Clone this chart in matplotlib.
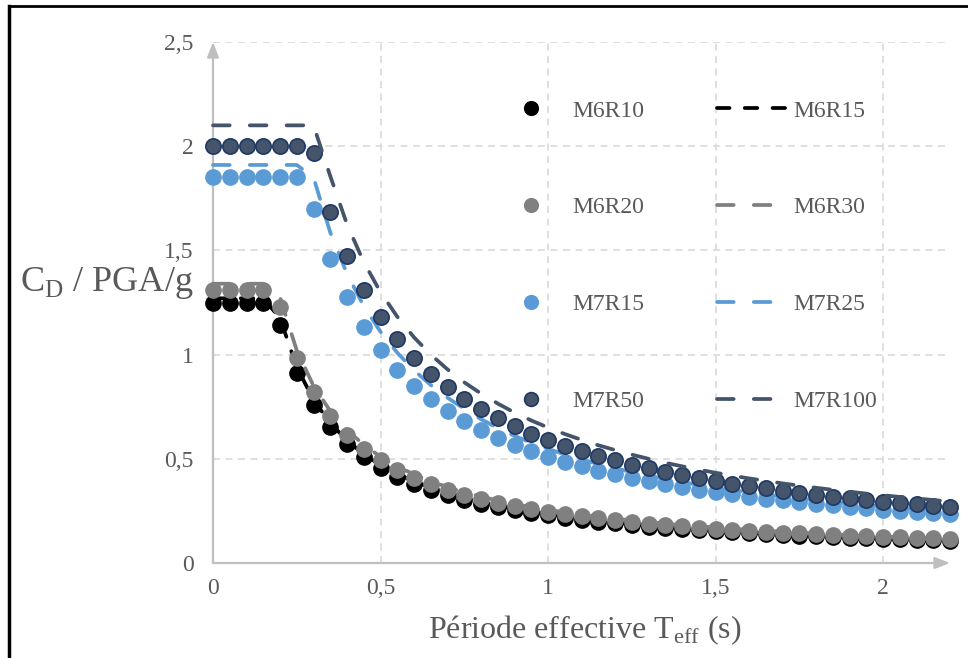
import matplotlib
matplotlib.use("Agg")
import matplotlib.pyplot as plt
from matplotlib.lines import Line2D
from matplotlib.ticker import FuncFormatter

# ------------------------------- data -------------------------------
T = [0.00, 0.05, 0.10, 0.15, 0.20, 0.25, 0.30, 0.35, 0.40, 0.45,
     0.50, 0.55, 0.60, 0.65, 0.70, 0.75, 0.80, 0.85, 0.90, 0.95,
     1.00, 1.05, 1.10, 1.15, 1.20, 1.25, 1.30, 1.35, 1.40, 1.45,
     1.50, 1.55, 1.60, 1.65, 1.70, 1.75, 1.80, 1.85, 1.90, 1.95,
     2.00, 2.05, 2.10, 2.15, 2.20]

# scatter series
M6R10 = [1.25, 1.25, 1.25, 1.25, 1.14, 0.912, 0.760, 0.651, 0.570, 0.507,
         0.456, 0.415, 0.380, 0.351, 0.326, 0.304, 0.285, 0.268, 0.253, 0.240,
         0.228, 0.217, 0.207, 0.198, 0.190, 0.182, 0.175, 0.169, 0.163, 0.157,
         0.152, 0.147, 0.143, 0.139, 0.135, 0.131, 0.128, 0.124, 0.121, 0.118,
         0.116, 0.113, 0.111, 0.109, 0.107]
M6R20 = [1.31, 1.31, 1.31, 1.31, 1.23, 0.984, 0.820, 0.703, 0.615, 0.547,
         0.492, 0.447, 0.410, 0.378, 0.351, 0.328, 0.308, 0.289, 0.273, 0.259,
         0.246, 0.234, 0.224, 0.214, 0.205, 0.197, 0.189, 0.182, 0.176, 0.170,
         0.164, 0.159, 0.155, 0.150, 0.146, 0.142, 0.138, 0.135, 0.131, 0.128,
         0.125, 0.123, 0.120, 0.118, 0.116]
M7R15 = [1.85, 1.85, 1.85, 1.85, 1.85, 1.85, 1.70, 1.457, 1.275, 1.133,
         1.020, 0.927, 0.850, 0.785, 0.729, 0.680, 0.638, 0.600, 0.567, 0.537,
         0.510, 0.486, 0.464, 0.443, 0.425, 0.408, 0.392, 0.378, 0.364, 0.352,
         0.340, 0.329, 0.319, 0.309, 0.300, 0.291, 0.283, 0.276, 0.268, 0.262,
         0.255, 0.249, 0.243, 0.238, 0.234]
M7R50 = [2.00, 2.00, 2.00, 2.00, 2.00, 2.00, 1.967, 1.686, 1.475, 1.311,
         1.180, 1.073, 0.983, 0.908, 0.843, 0.787, 0.738, 0.694, 0.656, 0.621,
         0.590, 0.562, 0.536, 0.513, 0.492, 0.472, 0.454, 0.437, 0.421, 0.407,
         0.393, 0.381, 0.369, 0.358, 0.347, 0.337, 0.328, 0.319, 0.311, 0.303,
         0.295, 0.288, 0.281, 0.275, 0.270]

# dashed line series
M6R15 = [1.27, 1.27, 1.27, 1.27, 1.175, 0.940, 0.783, 0.671, 0.588, 0.522,
         0.470, 0.427, 0.392, 0.362, 0.336, 0.313, 0.294, 0.276, 0.261, 0.247,
         0.235, 0.224, 0.214, 0.204, 0.196, 0.188, 0.181, 0.174, 0.168, 0.162,
         0.157, 0.152, 0.147, 0.142, 0.138, 0.134, 0.131, 0.127, 0.124, 0.121,
         0.118, 0.115, 0.112, 0.110, 0.108]
M6R30 = [1.34, 1.34, 1.34, 1.34, 1.275, 1.020, 0.850, 0.729, 0.638, 0.567,
         0.510, 0.464, 0.425, 0.392, 0.364, 0.340, 0.319, 0.300, 0.283, 0.268,
         0.255, 0.243, 0.232, 0.222, 0.213, 0.204, 0.196, 0.189, 0.182, 0.176,
         0.170, 0.165, 0.159, 0.155, 0.150, 0.146, 0.142, 0.138, 0.134, 0.131,
         0.128, 0.124, 0.121, 0.119, 0.116]
M7R25 = [1.91, 1.91, 1.91, 1.91, 1.91, 1.91, 1.85, 1.586, 1.388, 1.233,
         1.110, 1.009, 0.925, 0.854, 0.793, 0.740, 0.690, 0.648, 0.610, 0.577,
         0.548, 0.521, 0.497, 0.475, 0.455, 0.436, 0.419, 0.403, 0.389, 0.375,
         0.362, 0.350, 0.339, 0.329, 0.319, 0.310, 0.301, 0.293, 0.285, 0.278,
         0.271, 0.264, 0.258, 0.252, 0.246]
M7R100 = [2.10, 2.10, 2.10, 2.10, 2.10, 2.10, 2.10, 1.857, 1.625, 1.444,
          1.300, 1.182, 1.083, 1.000, 0.929, 0.867, 0.813, 0.765, 0.722, 0.684,
          0.650, 0.619, 0.591, 0.565, 0.542, 0.520, 0.500, 0.481, 0.464, 0.448,
          0.433, 0.419, 0.406, 0.394, 0.382, 0.371, 0.361, 0.351, 0.342, 0.333,
          0.325, 0.317, 0.310, 0.302, 0.295]

X_TICKS = [0, 0.5, 1, 1.5, 2]
Y_TICKS = [0, 0.5, 1, 1.5, 2, 2.5]

# ------------------------------- style -------------------------------
plt.rcParams["font.family"] = ["Liberation Serif", "DejaVu Serif"]
plt.rcParams["mathtext.fontset"] = "custom"
plt.rcParams["mathtext.rm"] = "Liberation Serif"
plt.rcParams["lines.scale_dashes"] = False

TXT = "#595959"
AX_GREY = "#bfbfbf"
GRID = "#d9d9d9"
BLACK = "#000000"
GREY = "#808080"
LBLUE = "#5b9bd5"
DBLUE = "#44546a"
DEDGE = "#1f3864"

SHORT_DASH = (0, (9.0, 11.0))
LONG_DASH = (0, (12.0, 14.5))
LW = 2.7
MS = 11


def comma(v, _pos):
    s = f"{v:g}"
    return s.replace(".", ",")


fig = plt.figure(figsize=(9.68, 6.58), dpi=100)
ax = fig.add_axes([213 / 968, 1 - 563 / 658, (950 - 213) / 968, (563 - 42) / 658])

ax.set_xlim(0, 2.2)
ax.set_ylim(0, 2.5)

# grid
for y in Y_TICKS[1:]:
    ax.axhline(y, color=GRID, lw=1.2, ls=(0, (5, 4)), zorder=0)
for x in X_TICKS[1:]:
    ax.axvline(x, color=GRID, lw=1.2, ls=(0, (5, 4)), zorder=0)

for s in ax.spines.values():
    s.set_visible(False)

# axes with arrows
ax.annotate("", xy=(0, 1.0), xytext=(0, 0), xycoords="axes fraction",
            arrowprops=dict(arrowstyle="-|>,head_length=0.9,head_width=0.35",
                            color=AX_GREY, lw=1.6, shrinkA=0, shrinkB=0),
            annotation_clip=False, zorder=1)
ax.annotate("", xy=(1.0, 0), xytext=(0, 0), xycoords="axes fraction",
            arrowprops=dict(arrowstyle="-|>,head_length=0.9,head_width=0.35",
                            color=AX_GREY, lw=1.6, shrinkA=0, shrinkB=0),
            annotation_clip=False, zorder=1)

# series
h1, = ax.plot(T, M6R10, ls="none", marker="o", ms=MS, color=BLACK,
              mec=BLACK, label="M6R10", clip_on=False, zorder=3)
h2, = ax.plot(T, M6R15, ls=SHORT_DASH, lw=LW, color=BLACK,
              dash_capstyle="round", label="M6R15", clip_on=False, zorder=3)
h3, = ax.plot(T, M6R20, ls="none", marker="o", ms=MS, color=GREY,
              mec=GREY, label="M6R20", clip_on=False, zorder=3)
h4, = ax.plot(T, M6R30, ls=LONG_DASH, lw=LW, color=GREY,
              dash_capstyle="round", label="M6R30", clip_on=False, zorder=3)
h5, = ax.plot(T, M7R15, ls="none", marker="o", ms=MS, color=LBLUE,
              mec=LBLUE, label="M7R15", clip_on=False, zorder=3)
h6, = ax.plot(T, M7R25, ls=LONG_DASH, lw=LW, color=LBLUE,
              dash_capstyle="round", label="M7R25", clip_on=False, zorder=3)
h7, = ax.plot(T, M7R50, ls="none", marker="o", ms=MS, color=DBLUE,
              mec=DEDGE, mew=1.2, label="M7R50", clip_on=False, zorder=3)
h8, = ax.plot(T, M7R100, ls=LONG_DASH, lw=LW, color=DBLUE,
              dash_capstyle="round", label="M7R100", clip_on=False, zorder=3)

# ticks
ax.set_xticks(X_TICKS)
ax.set_yticks(Y_TICKS)
ax.xaxis.set_major_formatter(FuncFormatter(comma))
ax.yaxis.set_major_formatter(FuncFormatter(comma))
ax.tick_params(axis="both", length=0, labelsize=17, labelcolor=TXT)
ax.tick_params(axis="y", pad=14)
ax.tick_params(axis="x", pad=11)

# legend: column 1 markers, column 2 dashed lines
handles = [h1, h3, h5, h7, h2, h4, h6, h8]
leg = ax.legend(handles=handles, labels=[h.get_label() for h in handles],
                ncol=2, frameon=False, fontsize=17, labelcolor=TXT,
                loc="upper left", bbox_to_anchor=(496 / 968, 1 - 100 / 658),
                bbox_transform=fig.transFigure, borderpad=0, borderaxespad=0,
                handlelength=2.95, handletextpad=0.3, columnspacing=3.05,
                labelspacing=3.19, markerscale=0.9)

# axis titles
fig.text(20 / 968, 1 - 283 / 658, "C$_\\mathrm{D}$ / PGA/g", fontsize=26,
         color=TXT, ha="left", va="center")
fig.text(585 / 968, 1 - 630 / 658, "Période effective T$_\\mathrm{eff}$ (s)",
         fontsize=23, color=TXT, ha="center", va="center")

# outer border (left and top edges)
fig.add_artist(Line2D([9 / 968, 9 / 968], [0, 1 - 6 / 658], color="black",
                      lw=2.5, transform=fig.transFigure))
fig.add_artist(Line2D([9 / 968, 1], [1 - 6 / 658, 1 - 6 / 658], color="black",
                      lw=2.0, transform=fig.transFigure))

fig.savefig("out.png", dpi=100)
